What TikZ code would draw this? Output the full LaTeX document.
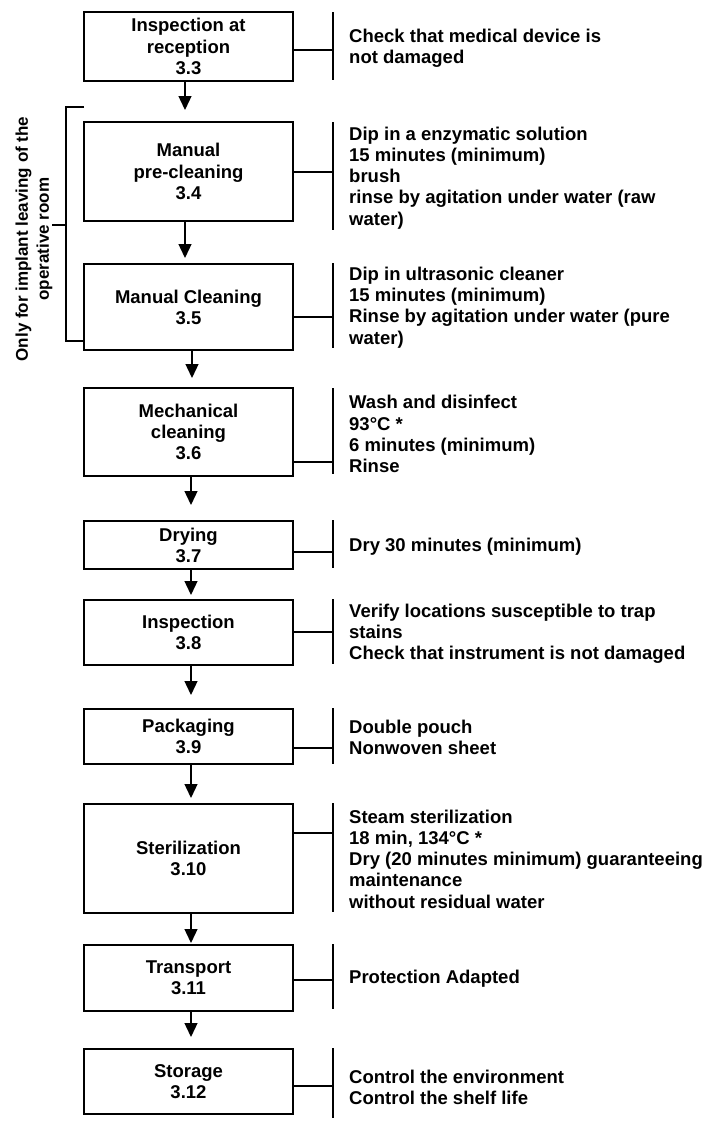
\documentclass[tikz,border=0pt]{standalone}
\usepackage{fontspec}
\setmainfont{Liberation Sans}
\usetikzlibrary{arrows.meta}
\newcommand\boxfont{\fontsize{18.5bp}{21.2bp}\selectfont\bfseries}
\newcommand\sidefont{\fontsize{17bp}{21bp}\selectfont\bfseries}
\tikzset{
  stepbox/.style={draw, line width=2.2bp, minimum width=209bp, inner sep=0pt, align=center, font=\boxfont},
  note/.style={anchor=west, align=left, inner sep=0pt, font=\boxfont},
  arr/.style={line width=1.3bp, -{Triangle[width=13bp,length=14bp]}},
  vbar/.style={line width=2bp},
  link/.style={line width=1.2bp},
  bracket/.style={line width=1.5bp},
}
\begin{document}
\begin{tikzpicture}[x=1bp,y=-1bp]
\useasboundingbox (0,0) rectangle (708,1122);
% process boxes
\node[stepbox, minimum height=69bp]  (b1)  at (188.5,46.5)  {Inspection at\\reception\\3.3};
\node[stepbox, minimum height=99bp]  (b2)  at (188.5,171.5) {Manual\\pre-cleaning\\3.4};
\node[stepbox, minimum height=86bp]  (b3)  at (188.5,307)   {Manual Cleaning\\3.5};
\node[stepbox, minimum height=88bp]  (b4)  at (188.5,432)   {Mechanical\\cleaning\\3.6};
\node[stepbox, minimum height=48bp]  (b5)  at (188.5,545)   {Drying\\3.7};
\node[stepbox, minimum height=65bp]  (b6)  at (188.5,632.5) {Inspection\\3.8};
\node[stepbox, minimum height=55bp]  (b7)  at (188.5,736.5) {Packaging\\3.9};
\node[stepbox, minimum height=109bp] (b8)  at (188.5,858.5) {Sterilization\\3.10};
\node[stepbox, minimum height=66bp]  (b9)  at (188.5,978)   {Transport\\3.11};
\node[stepbox, minimum height=65bp]  (b10) at (188.5,1081.5){Storage\\3.12};
% notes
\node[note] (t1)  at (349,48)    {Check that medical device is\\not damaged};
\node[note] (t2)  at (349,178)   {Dip in a enzymatic solution\\15 minutes (minimum)\\brush\\rinse by agitation under water (raw\\water)};
\node[note] (t3)  at (349,307.5) {Dip in ultrasonic cleaner\\15 minutes (minimum)\\Rinse by agitation under water (pure\\water)};
\node[note] (t4)  at (349,434)   {Wash and disinfect\\93°C *\\6 minutes (minimum)\\Rinse};
\node[note] (t5)  at (349,547)   {Dry 30 minutes (minimum)};
\node[note] (t6)  at (349,634)   {Verify locations susceptible to trap\\stains\\Check that instrument is not damaged};
\node[note] (t7)  at (349,737.5) {Double pouch\\Nonwoven sheet};
\node[note] (t8)  at (349,859)   {Steam sterilization\\18 min, 134°C *\\Dry (20 minutes minimum) guaranteeing\\maintenance\\without residual water};
\node[note] (t9)  at (349,979)   {Protection Adapted};
\node[note] (t10) at (349,1087)  {Control the environment\\Control the shelf life};
% right-hand bars and links
\foreach \i/\top/\bot/\conn in {1/12/80/50, 2/122/230/172, 3/263/348/317, 4/388/474/462, 5/520/568/552, 6/599/664/632, 7/708/764/748, 8/803/912/833, 9/944/1009/980, 10/1048/1118/1086}{
  \coordinate (vt\i) at (333,\top);
  \coordinate (vb\i) at (333,\bot);
  \coordinate (vc\i) at (333,\conn);
  \draw[vbar] (vt\i) -- (vb\i);
  \draw[link] (b\i.east |- vc\i) -- (vc\i);
}
% arrows between steps
\foreach \i/\j/\x/\tip in {1/2/185/110, 2/3/185/258, 3/4/192/378, 4/5/191/505, 5/6/191/595, 6/7/191/695, 7/8/191/798, 8/9/191/943, 9/10/191/1037}{
  \coordinate (a\i) at (\x,\tip);
  \draw[arr] (a\i |- b\i.south) -- (a\i);
}
% bracket on the left
\coordinate (k1) at (84,107);
\coordinate (k2) at (84,341);
\coordinate (km) at (66,225);
\coordinate (kt) at (52,225);
\draw[bracket] (k1) -- (66,107) -- (66,341) -- (k2);
\draw[bracket] (kt) -- (km);
\node[rotate=90, align=center, inner sep=0pt, font=\sidefont] (side) at (34,239) {Only for implant leaving of the\\operative room};
\end{tikzpicture}
\end{document}
